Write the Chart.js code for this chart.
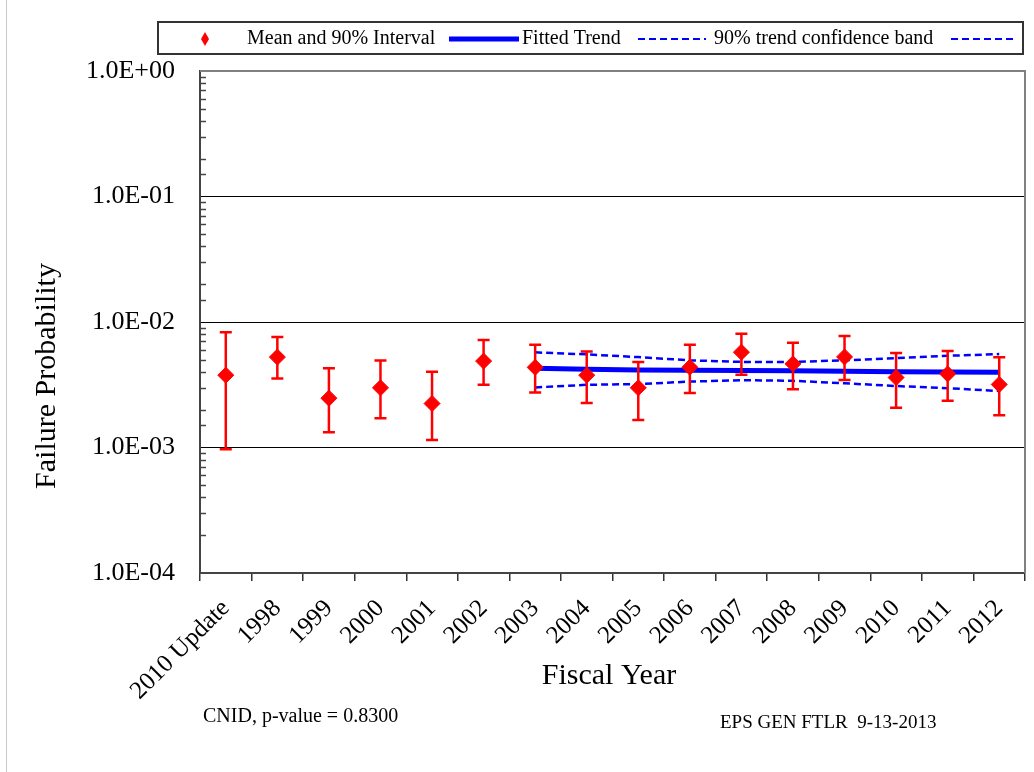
<!DOCTYPE html>
<html>
<head>
<meta charset="utf-8">
<script src="https://cdn.jsdelivr.net/npm/chart.js@4.4.1/dist/chart.umd.min.js"></script>
<style>
  body { margin: 0; background: #fff; }
  #wrap { width: 1034px; height: 772px; position: relative; }
</style>
</head>
<body>
<div id="wrap"><canvas id="failChart" width="1034" height="772"></canvas></div>
<script>
// Data
const categories = ['2010 Update', '1998', '1999', '2000', '2001', '2002', '2003', '2004',
    '2005', '2006', '2007', '2008', '2009', '2010', '2011', '2012'];
const meanValues = [0.00377, 0.00525, 0.00247, 0.00299, 0.00224, 0.00488, 0.00435, 0.00377,
    0.00299, 0.00436, 0.00575, 0.00464, 0.00527, 0.00361, 0.00386, 0.00318];
const lowerValues = [0.00097, 0.00355, 0.00132, 0.00171, 0.00115, 0.00316, 0.00274, 0.00226,
    0.00166, 0.00272, 0.00380, 0.00291, 0.00345, 0.00207, 0.00236, 0.00181];
const upperValues = [0.00830, 0.00759, 0.00429, 0.00494, 0.00401, 0.00718, 0.00659, 0.00583,
    0.00479, 0.00660, 0.00805, 0.00683, 0.00773, 0.00566, 0.00588, 0.00524];
const trendValues = [null, null, null, null, null, null, 0.00428, 0.00421,
    0.00415, 0.00412, 0.00410, 0.00408, 0.00406, 0.00402, 0.00400, 0.00397];
const bandUpper = [null, null, null, null, null, null, 0.00573, 0.00552,
    0.00525, 0.00495, 0.00481, 0.00481, 0.00495, 0.00515, 0.00538, 0.00555];
const bandLower = [null, null, null, null, null, null, 0.00301, 0.00316,
    0.00320, 0.00335, 0.00344, 0.00340, 0.00325, 0.00309, 0.00297, 0.00282];
const yMin = 1e-4;
const yMax = 1;

const SERIF = '"Liberation Serif", "Times New Roman", serif';
const RED = '#ff0000';
const BLUE = '#0000ff';

function isMajor(v) {
    const e = Math.log10(v);
    return Math.abs(e - Math.round(e)) < 1e-9;
}

function sciLabel(v) {
    const e = Math.round(Math.log10(v));
    const sign = e < 0 ? '-' : '+';
    const n = Math.abs(e);
    return '1.0E' + sign + (n < 10 ? '0' + n : n);
}

// error bars, minor ticks, frame, legend, titles and notes
const decorations = {
    id: 'decorations',
    beforeDatasetsDraw(chart) {
        const { ctx, chartArea: a, scales } = chart;
        const y = scales.y;
        ctx.save();
        // minor ticks inside the left axis
        ctx.strokeStyle = '#444';
        ctx.lineWidth = 1.5;
        y.ticks.forEach(t => {
            if (isMajor(t.value)) return;
            const py = Math.round(y.getPixelForValue(t.value)) + 0.5;
            ctx.beginPath();
            ctx.moveTo(a.left, py);
            ctx.lineTo(a.left + 6, py);
            ctx.stroke();
        });
        // top and right frame
        ctx.strokeStyle = '#808080';
        ctx.lineWidth = 2;
        ctx.beginPath();
        ctx.moveTo(a.left, a.top);
        ctx.lineTo(a.right, a.top);
        ctx.lineTo(a.right, a.bottom);
        ctx.stroke();
        ctx.restore();
    },
    afterDatasetsDraw(chart) {
        const { ctx, scales } = chart;
        const x = scales.x, y = scales.y;
        ctx.save();
        ctx.strokeStyle = RED;
        ctx.lineWidth = 2.5;
        categories.forEach((c, i) => {
            const px = x.getPixelForValue(i);
            const pLo = y.getPixelForValue(lowerValues[i]);
            const pHi = y.getPixelForValue(upperValues[i]);
            ctx.beginPath();
            ctx.moveTo(px, pLo);
            ctx.lineTo(px, pHi);
            ctx.moveTo(px - 6, pLo);
            ctx.lineTo(px + 6, pLo);
            ctx.moveTo(px - 6, pHi);
            ctx.lineTo(px + 6, pHi);
            ctx.stroke();
        });
        ctx.restore();
    },
    afterDraw(chart) {
        const { ctx } = chart;
        ctx.save();
        // faint left page edge
        ctx.strokeStyle = '#c8c8c8';
        ctx.lineWidth = 1;
        ctx.beginPath();
        ctx.moveTo(6.5, 0);
        ctx.lineTo(6.5, 772);
        ctx.stroke();

        // legend box
        ctx.strokeStyle = '#333';
        ctx.lineWidth = 2;
        ctx.strokeRect(158, 22, 865, 32);
        const ly = 39;
        ctx.fillStyle = RED;
        ctx.beginPath();
        ctx.moveTo(205, ly - 7);
        ctx.lineTo(209, ly);
        ctx.lineTo(205, ly + 7);
        ctx.lineTo(201, ly);
        ctx.closePath();
        ctx.fill();
        ctx.strokeStyle = BLUE;
        ctx.lineWidth = 5;
        ctx.beginPath();
        ctx.moveTo(449, ly);
        ctx.lineTo(519, ly);
        ctx.stroke();
        ctx.lineWidth = 2;
        ctx.setLineDash([7, 4]);
        ctx.beginPath();
        ctx.moveTo(638, ly);
        ctx.lineTo(706, ly);
        ctx.moveTo(951, ly);
        ctx.lineTo(1016, ly);
        ctx.stroke();
        ctx.setLineDash([]);
        ctx.fillStyle = '#000';
        ctx.font = '20px ' + SERIF;
        ctx.textBaseline = 'middle';
        ctx.textAlign = 'left';
        ctx.fillText('Mean and 90% Interval', 247, ly);
        ctx.fillText('Fitted Trend', 522, ly);
        ctx.fillText('90% trend confidence band', 714, ly);

        // axis titles
        ctx.font = '30px ' + SERIF;
        ctx.textAlign = 'center';
        ctx.fillText('Fiscal Year', 609, 676);
        ctx.save();
        ctx.translate(47, 376);
        ctx.rotate(-Math.PI / 2);
        ctx.fillText('Failure Probability', 0, 0);
        ctx.restore();

        // notes
        ctx.textAlign = 'left';
        ctx.font = '20px ' + SERIF;
        ctx.fillText('CNID, p-value = 0.8300', 203, 717);
        ctx.font = '19px ' + SERIF;
        ctx.fillText('EPS GEN FTLR  9-13-2013', 720, 723);
        ctx.restore();
    }
};

function initFailChart() {
    const ctx = document.getElementById('failChart').getContext('2d');
    new Chart(ctx, {
        type: 'line',
        data: {
            labels: categories,
            datasets: [
                {
                    label: 'Mean and 90% Interval',
                    data: meanValues,
                    showLine: false,
                    pointStyle: 'rectRot',
                    pointRadius: 8,
                    pointBackgroundColor: RED,
                    pointBorderColor: RED,
                    pointBorderWidth: 1,
                    order: 0
                },
                {
                    label: 'Fitted Trend',
                    data: trendValues,
                    borderColor: BLUE,
                    borderWidth: 5,
                    pointRadius: 0,
                    fill: false,
                    order: 1
                },
                {
                    label: '90% trend confidence band',
                    data: bandUpper,
                    borderColor: BLUE,
                    borderWidth: 2.5,
                    borderDash: [7, 4],
                    pointRadius: 0,
                    fill: false,
                    order: 2
                },
                {
                    label: '',
                    data: bandLower,
                    borderColor: BLUE,
                    borderWidth: 2.5,
                    borderDash: [7, 4],
                    pointRadius: 0,
                    fill: false,
                    order: 3
                }
            ]
        },
        options: {
            responsive: false,
            animation: false,
            layout: { padding: { left: 0, right: 9, top: 71, bottom: 0 } },
            plugins: {
                legend: { display: false },
                tooltip: { enabled: false }
            },
            scales: {
                x: {
                    type: 'category',
                    offset: true,
                    afterFit: s => { s.height = 199; },
                    grid: {
                        offset: true,
                        drawOnChartArea: false,
                        drawTicks: true,
                        tickLength: 8,
                        color: '#333',
                        lineWidth: 1.5
                    },
                    border: { color: '#444', width: 2 },
                    ticks: {
                        color: '#000',
                        minRotation: 45,
                        maxRotation: 45,
                        autoSkip: false,
                        padding: 13,
                        font: { family: SERIF, size: 25 }
                    }
                },
                y: {
                    type: 'logarithmic',
                    min: yMin,
                    max: yMax,
                    afterFit: s => { s.width = 200; },
                    border: { color: '#444', width: 2 },
                    grid: {
                        drawTicks: false,
                        color: c => {
                            const v = c.tick && c.tick.value;
                            if (!v || !isMajor(v)) return 'rgba(0,0,0,0)';
                            if (v >= yMax) return '#808080';
                            return '#000';
                        },
                        lineWidth: 1
                    },
                    ticks: {
                        autoSkip: false,
                        color: '#000',
                        padding: 25,
                        font: { family: SERIF, size: 26 },
                        callback: v => isMajor(v) ? sciLabel(v) : ''
                    }
                }
            }
        },
        plugins: [decorations]
    });
}

document.addEventListener('DOMContentLoaded', initFailChart);
</script>
</body>
</html>
